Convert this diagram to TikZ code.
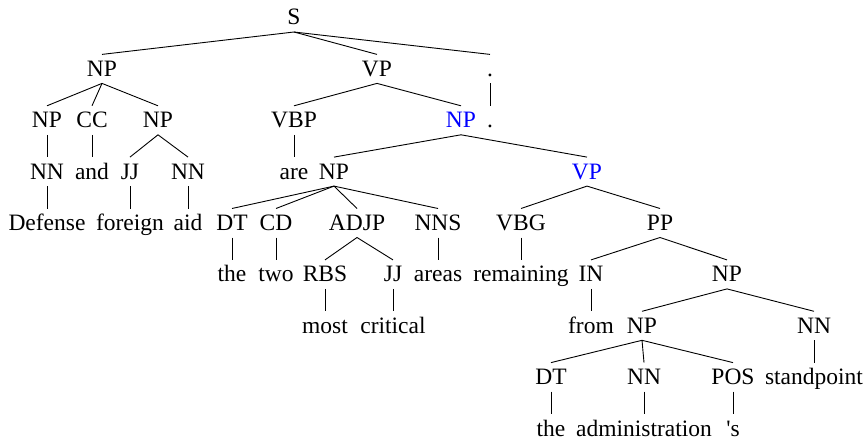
\documentclass[tikz,border=0pt]{standalone}
\usepackage{fontspec}
\setmainfont{Liberation Serif}
\begin{document}
\begin{tikzpicture}[x=1pt,y=1pt,
  lbl/.style={anchor=base,inner sep=0pt,font=\fontsize{23.5}{28}\selectfont},
  hl/.style={lbl,text=blue},
  branch/.style={line width=0.9pt}]
\useasboundingbox (0,0) rectangle (866,-441);
% baselines of the nine levels
\def\lva{-25}\def\lvb{-76.4}\def\lvc{-127.8}\def\lvd{-179.1}\def\lve{-230.5}
\def\lvf{-281.9}\def\lvg{-333.3}\def\lvh{-384.6}\def\lvi{-436}
% level 0
\node[lbl] (S) at (294,\lva) {S};
% level 1
\node[lbl] (np1) at (102,\lvb) {NP};
\node[lbl] (vp1) at (377,\lvb) {VP};
\node[lbl] (dot1) at (490,\lvb) {.};
% level 2
\node[lbl] (npA) at (47,\lvc) {NP};
\node[lbl] (cc) at (92,\lvc) {CC};
\node[lbl] (npB) at (158,\lvc) {NP};
\node[lbl] (vbp) at (294,\lvc) {VBP};
\node[hl] (npC) at (461,\lvc) {NP};
\node[lbl] (dot2) at (490,\lvc) {.};
% level 3
\node[lbl] (nnA) at (47,\lvd) {NN};
\node[lbl] (and) at (92,\lvd) {and};
\node[lbl] (jjA) at (130,\lvd) {JJ};
\node[lbl] (nnB) at (188,\lvd) {NN};
\node[lbl] (are) at (294,\lvd) {are};
\node[lbl] (npD) at (334,\lvd) {NP};
\node[hl] (vpE) at (587,\lvd) {VP};
% level 4
\node[lbl] (defense) at (47,\lve) {Defense};
\node[lbl] (foreign) at (130,\lve) {foreign};
\node[lbl] (aid) at (188,\lve) {aid};
\node[lbl] (dtA) at (232,\lve) {DT};
\node[lbl] (cdA) at (276,\lve) {CD};
\node[lbl] (adjp) at (357,\lve) {ADJP};
\node[lbl] (nns) at (438,\lve) {NNS};
\node[lbl] (vbg) at (521,\lve) {VBG};
\node[lbl] (pp) at (660,\lve) {PP};
% level 5
\node[lbl] (the1) at (232,\lvf) {the};
\node[lbl] (two) at (276,\lvf) {two};
\node[lbl] (rbs) at (325,\lvf) {RBS};
\node[lbl] (jjB) at (393,\lvf) {JJ};
\node[lbl] (areas) at (438,\lvf) {areas};
\node[lbl] (remaining) at (521,\lvf) {remaining};
\node[lbl] (in) at (591,\lvf) {IN};
\node[lbl] (npF) at (727,\lvf) {NP};
% level 6
\node[lbl] (most) at (325,\lvg) {most};
\node[lbl] (critical) at (393,\lvg) {critical};
\node[lbl] (from) at (591,\lvg) {from};
\node[lbl] (npG) at (642,\lvg) {NP};
\node[lbl] (nnC) at (814,\lvg) {NN};
% level 7
\node[lbl] (dtB) at (551,\lvh) {DT};
\node[lbl] (nnD) at (644,\lvh) {NN};
\node[lbl] (pos) at (733,\lvh) {POS};
\node[lbl] (standpoint) at (814,\lvh) {standpoint};
% level 8
\node[lbl] (the2) at (551,\lvi) {the};
\node[lbl] (administration) at (644,\lvi) {administration};
\node[lbl] (poss) at (733,\lvi) {\textquotesingle s};
% branches: from just below the parent to just above the child
\foreach \p/\c in {S/np1,S/vp1,S/dot1,
  np1/npA,np1/cc,np1/npB,npA/nnA,cc/and,npB/jjA,npB/nnB,
  nnA/defense,jjA/foreign,nnB/aid,
  vp1/vbp,vp1/npC,dot1/dot2,vbp/are,
  npC/npD,npC/vpE,
  npD/dtA,npD/cdA,npD/adjp,npD/nns,
  dtA/the1,cdA/two,adjp/rbs,adjp/jjB,nns/areas,rbs/most,jjB/critical,
  vpE/vbg,vpE/pp,vbg/remaining,pp/in,pp/npF,in/from,
  npF/npG,npF/nnC,npG/dtB,npG/nnD,npG/pos,nnC/standpoint,
  dtB/the2,nnD/administration,pos/poss}
  \draw[branch] ([yshift=-7pt]\p.base) -- ([yshift=22pt]\c.base);
\end{tikzpicture}
\end{document}
